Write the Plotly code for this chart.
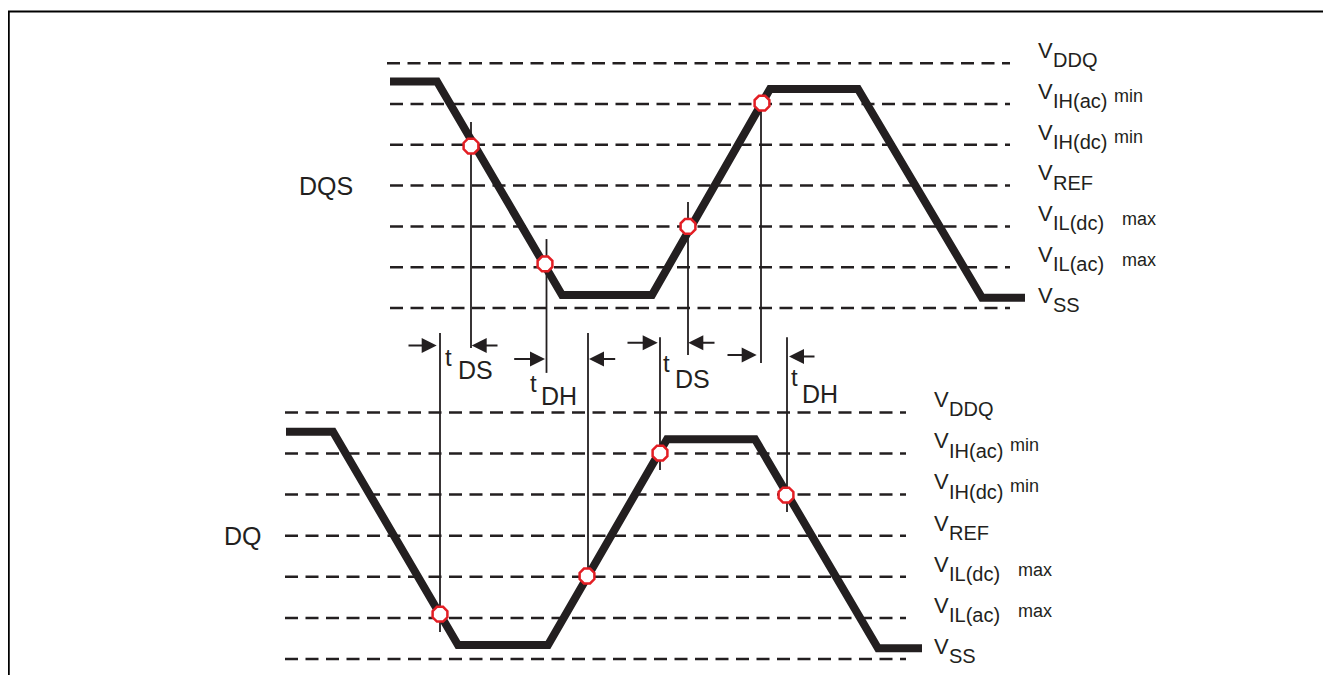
import plotly.graph_objects as go

# reference levels, bottom (0) to top (6)
levels = [0, 1, 2, 3, 4, 5, 6]
level_sub = ["SS", "IL(ac)", "IL(dc)", "REF", "IH(dc)", "IH(ac)", "DDQ"]
level_suffix = ["", "max", "max", "", "min", "min", ""]

# DQS waveform (time units, level units)
dqs_t = [0.00, 0.47, 1.72, 2.62, 3.80, 4.68, 5.92, 6.35]
dqs_v = [5.55, 5.55, 0.32, 0.32, 5.37, 5.37, 0.25, 0.25]
# DQ waveform
dq_t = [-1.04, -0.57, 0.68, 1.58, 2.77, 3.65, 4.88, 5.32]
dq_v = [5.53, 5.53, 0.34, 0.34, 5.35, 5.35, 0.26, 0.26]

# crossing points
dqs_mark_t = [0.81, 1.55, 2.98, 3.72]
dqs_mark_v = [3.97, 1.08, 2.00, 5.02]
dq_mark_t = [0.50, 1.97, 2.70, 3.96]
dq_mark_v = [1.09, 2.02, 5.01, 3.99]

# vertical timing reference lines
dqs_vline_t = [0.81, 1.565, 2.98, 3.71]
dqs_vline_top = [4.56, 1.69, 2.60, 4.9]
dqs_vline_bot = [-0.98, -1.59, -1.15, -1.35]
dq_vline_t = [0.50, 1.98, 2.70, 3.97]
dq_vline_top = [7.93, 7.93, 7.83, 7.83]
dq_vline_bot = [0.66, 2.04, 4.60, 3.58]

# timing arrows (DQS level units)
arrow_tail_t = [0.17, 1.09, 1.227, 2.267, 2.36, 3.26, 3.36, 4.26]
arrow_head_t = [0.467, 0.817, 1.55, 1.99, 2.677, 2.983, 3.667, 3.99]
arrow_v = [-0.92, -0.92, -1.25, -1.25, -0.85, -0.85, -1.15, -1.19]

# timing labels
t_label_t = [0.58, 1.43, 2.765, 4.045]
t_label_v = [-1.21, -1.86, -1.35, -1.70]
sub_labels = ["DS", "DH", "DS", "DH"]
sub_label_t = [0.85, 1.69, 3.025, 4.30]
sub_label_v = [-1.53, -2.16, -1.74, -2.11]

INK = "#231f20"
RED = "#e31e24"
FONT = "Liberation Sans, Arial, Helvetica, sans-serif"
DASH = "13px,7.5px"

fig = go.Figure()

# dashed reference levels
for lv in levels:
    fig.add_trace(go.Scatter(x=[0.0 if lv < 6 else -0.03, 6.2], y=[lv, lv], yaxis="y2", mode="lines",
                             line=dict(color=INK, width=2.5, dash=DASH), hoverinfo="skip"))
    fig.add_trace(go.Scatter(x=[-1.05, 5.16], y=[lv, lv], yaxis="y", mode="lines",
                             line=dict(color=INK, width=2.5, dash=DASH), hoverinfo="skip"))

# vertical reference lines
for t, a, b in zip(dqs_vline_t, dqs_vline_top, dqs_vline_bot):
    fig.add_trace(go.Scatter(x=[t, t], y=[a, b], yaxis="y2", mode="lines",
                             line=dict(color=INK, width=1.8), hoverinfo="skip"))
for t, a, b in zip(dq_vline_t, dq_vline_top, dq_vline_bot):
    fig.add_trace(go.Scatter(x=[t, t], y=[a, b], yaxis="y", mode="lines",
                             line=dict(color=INK, width=1.8), hoverinfo="skip"))

# waveforms
fig.add_trace(go.Scatter(x=dqs_t, y=dqs_v, yaxis="y2", mode="lines",
                         line=dict(color=INK, width=8)))
fig.add_trace(go.Scatter(x=dq_t, y=dq_v, yaxis="y", mode="lines",
                         line=dict(color=INK, width=8)))

# crossing markers
mk = dict(symbol="octagon", size=16, color="white", line=dict(color=RED, width=2.5))
fig.add_trace(go.Scatter(x=dqs_mark_t, y=dqs_mark_v, yaxis="y2", mode="markers", marker=mk))
fig.add_trace(go.Scatter(x=dq_mark_t, y=dq_mark_v, yaxis="y", mode="markers", marker=mk))

annotations = []


def level_labels(x, yref):
    for lv, sub, suf in zip(levels, level_sub, level_suffix):
        annotations.append(dict(x=x, y=lv, xref="x", yref=yref, text="V", showarrow=False,
                                xanchor="left", yanchor="middle", yshift=12.7,
                                font=dict(size=22, color=INK, family=FONT)))
        annotations.append(dict(x=x, y=lv, xref="x", yref=yref, text=sub, showarrow=False,
                                xanchor="left", yanchor="middle", xshift=15, yshift=3,
                                font=dict(size=20, color=INK, family=FONT)))
        if suf:
            annotations.append(dict(x=x, y=lv, xref="x", yref=yref, text=suf, showarrow=False,
                                    xanchor="left", yanchor="middle",
                                    xshift=76 if suf == "min" else 84,
                                    yshift=8.3 if suf == "min" else 7.3,
                                    font=dict(size=18, color=INK, family=FONT)))


level_labels(6.46, "y2")
level_labels(5.42, "y")

annotations.append(dict(x=-0.645, y=3.0, xref="x", yref="y2", text="DQS", showarrow=False,
                        font=dict(size=25, color=INK, family=FONT)))
annotations.append(dict(x=-1.47, y=3.0, xref="x", yref="y", text="DQ", showarrow=False,
                        font=dict(size=25, color=INK, family=FONT)))

for ht, tt, v in zip(arrow_head_t, arrow_tail_t, arrow_v):
    annotations.append(dict(x=ht, y=v, ax=tt, ay=v, xref="x", yref="y2", axref="x", ayref="y2",
                            text="", showarrow=True, arrowhead=2, arrowsize=1.5, arrowwidth=2,
                            arrowcolor=INK, standoff=0))

for t, v in zip(t_label_t, t_label_v):
    annotations.append(dict(x=t, y=v, xref="x", yref="y2", text="t", showarrow=False,
                            font=dict(size=24, color=INK, family=FONT)))
for lab, t, v in zip(sub_labels, sub_label_t, sub_label_v):
    annotations.append(dict(x=t, y=v, xref="x", yref="y2", text=lab, showarrow=False,
                            font=dict(size=25, color=INK, family=FONT)))

# the page body adds an 8px margin, so the figure is 8px smaller and ranges compensate
fig.update_layout(
    width=1323, height=667,
    margin=dict(l=0, r=0, t=0, b=0),
    paper_bgcolor="white", plot_bgcolor="white",
    showlegend=False,
    xaxis=dict(range=[-3.82, 9.41], visible=False),
    yaxis=dict(range=[-0.389, 15.84], visible=False),
    yaxis2=dict(range=[-8.995, 7.353], visible=False, overlaying="y"),
    annotations=annotations,
    shapes=[dict(type="rect", xref="paper", yref="paper", x0=0.75 / 1323, x1=1320.5 / 1323,
                 y0=-0.05, y1=1 - 3.5 / 667, line=dict(color="black", width=2))],
)

fig.write_html("out.html")
